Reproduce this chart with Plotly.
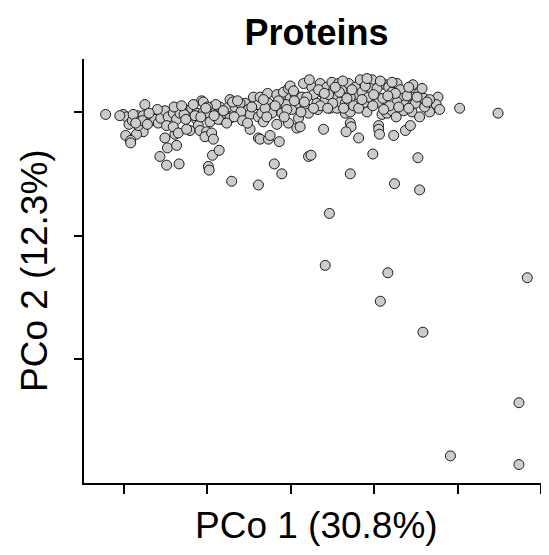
import plotly.graph_objects as go

# PCo coordinates (PCo 1, PCo 2)
pco1 = [
    -0.222, -0.175, -0.201, -0.197, -0.194, -0.184, -0.177, -0.175, -0.180, -0.177,
    -0.198, -0.185, -0.192, -0.192, -0.183, -0.169, -0.166, -0.163, -0.159, -0.156,
    -0.151, -0.147, -0.149, -0.141, -0.137, -0.139, -0.151, -0.148, -0.137, -0.157,
    -0.149, -0.134, -0.141, -0.190,
    -0.133, -0.135, -0.123, -0.119, -0.113, -0.107, -0.105, -0.099, -0.095, -0.089,
    -0.085, -0.083, -0.079, -0.075, -0.073, -0.073, -0.067, -0.061, -0.055, -0.051,
    -0.049, -0.043, -0.041, -0.039, -0.113, -0.111, -0.121, -0.125, -0.109, -0.101,
    -0.103, -0.095, -0.093, -0.097, -0.087, -0.049, -0.039, -0.094, -0.086, -0.099,
    -0.098, -0.071, -0.039, -0.020, -0.011, -0.105, -0.061, -0.045, -0.128, -0.115,
    -0.039, -0.037, -0.028, -0.027, -0.023, -0.017, -0.011, -0.009, -0.003, -0.001,
    0.001, 0.005, 0.009, 0.013, 0.015, 0.017, 0.021, 0.025, 0.027, 0.031,
    0.035, 0.037, 0.041, 0.043, 0.049, 0.051, 0.053, 0.047, 0.055, -0.035,
    -0.033, -0.023, -0.011, -0.003, 0.009, -0.017, 0.007, 0.011, 0.039, -0.037,
    -0.027, -0.025, -0.014, 0.021, 0.024, -0.001, 0.022, -0.006, 0.032,
    0.057, 0.061, 0.069, 0.077, 0.079, 0.071, 0.059, 0.065, 0.065, 0.071,
    0.087, 0.091, 0.097, 0.095, 0.101, 0.105, 0.113, 0.117, 0.121, 0.127,
    0.131, 0.133, 0.127, 0.137, 0.146, 0.145, 0.146, 0.145, 0.109, 0.115,
    0.121, 0.126, 0.071, 0.072, 0.066, 0.081, 0.105, 0.105, 0.106, 0.123,
    0.137, 0.143, 0.098, 0.152, 0.071, 0.046, 0.124, 0.154, 0.083, 0.085,
    0.153, 0.176, 0.174, 0.178, 0.166, 0.160, 0.154, 0.159, 0.202, 0.248, 0.166,
    0.041, 0.116, 0.107, 0.158, 0.283, 0.273, 0.191, 0.273,
    0.003, 0.019, 0.033, 0.045, 0.058, 0.067, 0.075, 0.089, 0.093, 0.103,
    0.110, 0.118, 0.125, 0.139, 0.141, 0.062, 0.091, 0.107, 0.121, 0.035,
    -0.015, -0.005, -0.031, -0.060, -0.070, -0.090, -0.100, -0.117, -0.140, -0.160,
    -0.170, -0.189, -0.205, 0.012, 0.050, 0.081, 0.098, 0.135, 0.149, 0.157,
    -0.131, -0.126, -0.108, -0.102, -0.092, -0.081, -0.077, -0.068, -0.064, -0.058,
    -0.047, -0.052, -0.033, -0.029, -0.019, -0.008, 0.004, 0.016, 0.027, 0.040,
    0.044, 0.053, 0.063, 0.073, 0.085, 0.099, 0.111, 0.116, 0.129, 0.141,
    0.151, 0.163, -0.178, -0.186, -0.172,
]
pco2 = [
    -0.002, 0.006, -0.002, -0.004, -0.010, -0.003, -0.003, -0.011, -0.013, -0.016,
    -0.019, -0.018, -0.023, -0.025, -0.011, -0.005, -0.007, -0.006, -0.009, -0.005,
    0.001, -0.004, -0.011, -0.001, -0.006, -0.018, -0.021, -0.029, -0.027, -0.036,
    -0.043, -0.042, -0.012, -0.007,
    -0.001, -0.017, 0.001, 0.003, -0.001, 0.009, 0.000, -0.001, 0.004, -0.002,
    0.004, -0.006, -0.001, 0.004, 0.010, -0.005, 0.004, -0.002, 0.007, 0.002,
    -0.002, 0.011, 0.006, -0.004, -0.006, -0.011, -0.015, -0.014, -0.015, -0.016,
    -0.020, -0.017, -0.022, -0.008, -0.006, -0.014, -0.021, -0.035, -0.031, -0.044,
    -0.047, -0.056, -0.059, -0.042, -0.050, 0.008, 0.007, 0.012, -0.002, -0.003,
    0.006, 0.012, 0.015, 0.007, 0.003, 0.014, 0.007, 0.016, 0.019, 0.011,
    0.002, 0.014, 0.007, 0.012, 0.023, 0.004, -0.001, 0.020, 0.014, 0.007,
    0.023, 0.016, 0.010, 0.020, 0.024, 0.018, 0.011, 0.003, 0.003, -0.001,
    -0.008, -0.001, -0.001, -0.009, -0.005, -0.010, -0.013, -0.012, -0.014, -0.022,
    -0.022, -0.019, -0.024, -0.036, -0.035, 0.021, 0.026, 0.006, 0.002,
    0.023, 0.018, 0.023, 0.020, 0.014, 0.012, 0.008, 0.007, -0.001, 0.000,
    0.007, 0.000, 0.026, 0.019, 0.014, 0.008, 0.022, 0.020, 0.016, 0.023,
    0.018, 0.011, 0.008, 0.006, 0.022, 0.012, 0.006, 0.000, -0.002, -0.001,
    0.001, -0.004, -0.009, -0.012, -0.016, -0.021, -0.011, -0.014, -0.018, -0.019,
    -0.015, -0.011, -0.034, -0.037, -0.050, -0.082, -0.058, -0.063, 0.026, 0.016,
    0.015, 0.012, 0.006, 0.002, 0.000, 0.004, -0.004, 0.011, 0.003, -0.001, 0.010,
    -0.124, -0.130, -0.153, -0.178, -0.134, -0.235, -0.278, -0.285,
    0.017, 0.012, 0.018, 0.014, 0.016, 0.011, 0.005, 0.021, 0.012, 0.019,
    0.011, 0.005, 0.015, 0.013, 0.020, 0.025, 0.027, 0.025, 0.024, 0.005,
    0.009, 0.002, 0.003, 0.000, 0.008, 0.006, 0.004, 0.006, 0.004, 0.002,
    -0.001, -0.002, -0.003, 0.000, 0.007, 0.003, 0.005, 0.001, 0.007, 0.019,
    0.005, -0.006, -0.004, 0.003, -0.003, 0.001, -0.009, -0.004, 0.009, -0.007,
    0.004, -0.009, 0.010, -0.004, 0.005, -0.004, 0.009, 0.008, 0.003, 0.015,
    0.003, 0.020, 0.003, 0.018, 0.010, 0.014, 0.002, 0.013, 0.004, 0.003,
    0.012, 0.008, -0.007, -0.009, -0.010,
]

x_ticks = [-0.2, -0.1, 0.0, 0.1, 0.2, 0.3]
y_ticks = [0.0, -0.1, -0.2, -0.3]

title_text = "Proteins"
x_label = "PCo 1 (30.8%)"
y_label = "PCo 2 (12.3%)"

fig = go.Figure()
fig.add_trace(go.Scatter(
    x=pco1, y=pco2, mode="markers",
    marker=dict(size=10, color="#cccccc", line=dict(color="#1a1a1a", width=1)),
    cliponaxis=False, hoverinfo="skip", showlegend=False,
))

font_family = "Liberation Sans, Arial, sans-serif"
W, H = 541, 547
fig.update_layout(
    width=W, height=H,
    margin=dict(l=76, r=0, t=51, b=72),
    paper_bgcolor="white", plot_bgcolor="white",
    font=dict(family=font_family, color="black"),
    title=dict(text="<b>" + title_text + "</b>", x=0.5, xref="paper",
               y=1 - 24 / H, yref="container", yanchor="middle", xanchor="center",
               font=dict(size=36, family=font_family, color="black")),
    xaxis=dict(range=[-0.2479, 0.309], tickvals=x_ticks, showticklabels=False,
               ticks="outside", ticklen=9, tickwidth=2, tickcolor="black",
               showline=True, linewidth=2, linecolor="black",
               showgrid=False, zeroline=False),
    yaxis=dict(range=[-0.2999, 0.0428], tickvals=y_ticks, showticklabels=False,
               ticks="outside", ticklen=8, tickwidth=2, tickcolor="black",
               showline=True, linewidth=2, linecolor="black",
               showgrid=False, zeroline=False),
    annotations=[
        dict(text=x_label, xref="paper", yref="paper", x=0.5, y=0,
             xanchor="center", yanchor="middle", yshift=-42, showarrow=False,
             font=dict(size=37, family=font_family, color="black")),
        dict(text=y_label, xref="paper", yref="paper", x=0, y=0.5,
             xanchor="center", yanchor="middle", xshift=-50, textangle=-90,
             showarrow=False, font=dict(size=37, family=font_family, color="black")),
    ],
)

fig.write_html("out.html")
